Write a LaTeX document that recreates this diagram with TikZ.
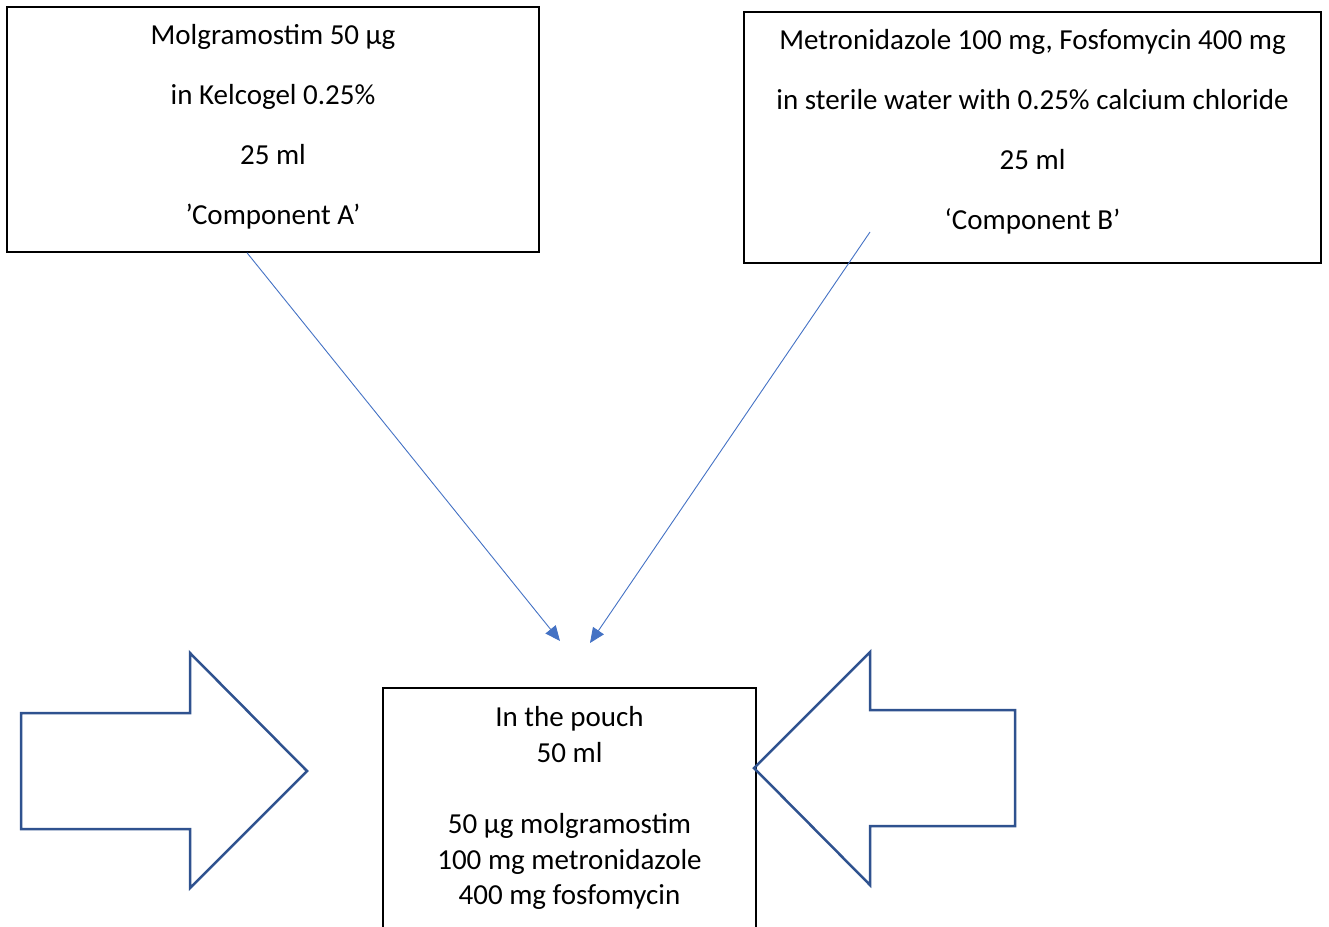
\documentclass[tikz,border=0pt]{standalone}
\usepackage{fontspec}
\setmainfont{Carlito}
\usepackage{xcolor}
\usepackage{tikz}
\usetikzlibrary{arrows.meta,positioning,calc}
\definecolor{feedblue}{HTML}{4472C4}
\definecolor{pushblue}{HTML}{2F528F}
\tikzset{
  compbox/.style={draw=black, line width=1.5pt, align=center, inner sep=0pt, font=\fontsize{29}{60}\selectfont},
  feed/.style={feedblue, line width=0.9pt, -{Triangle[length=15pt,width=13pt]}},
  pushshape/.style={draw=pushblue, line width=2.5pt, line join=miter}
}

\begin{document}
\begin{tikzpicture}[x=1pt, y=-1pt]
\useasboundingbox (0,0) rectangle (1329,926);
\node[compbox, minimum width=532pt, minimum height=245pt] (compA) at (273,129.5) {Molgramostim 50 µg\\in Kelcogel 0.25\%\\25 ml\\’Component A’\rule[-11pt]{0pt}{11pt}};
\node[compbox, minimum width=577pt, minimum height=251pt] (compB) at (1032.5,137.5) {Metronidazole 100 mg, Fosfomycin 400 mg\\in sterile water with 0.25\% calcium chloride\\25 ml\\‘Component B’\rule[-16pt]{0pt}{16pt}};
\node[compbox, minimum width=373pt, minimum height=300pt, anchor=north] (pouch) at (569.5,687) {};
\node[align=center, inner sep=0pt, anchor=north, font=\fontsize{29}{35.7}\selectfont] (pouchtext) at (569.5,706) {In the pouch\\50 ml\\[35.7pt]50 µg molgramostim\\100 mg metronidazole\\400 mg fosfomycin};
\coordinate (fromA) at ($(compA.south)+(-26,0)$);
\coordinate (fromB) at (870,232);
\coordinate (toA) at (560,641);
\coordinate (toB) at (590,643);
\draw[feed] (fromA) -- (toA);
\draw[feed] (fromB) -- (toB);
\draw[pushshape] (21,713) -- (190,713) -- (190,653) -- (307,771) -- (190,888) -- (190,829) -- (21,829) -- cycle;
\draw[pushshape] (754,768) -- (870,652) -- (870,710) -- (1015,710) -- (1015,826) -- (870,826) -- (870,885) -- cycle;
\end{tikzpicture}
\end{document}
